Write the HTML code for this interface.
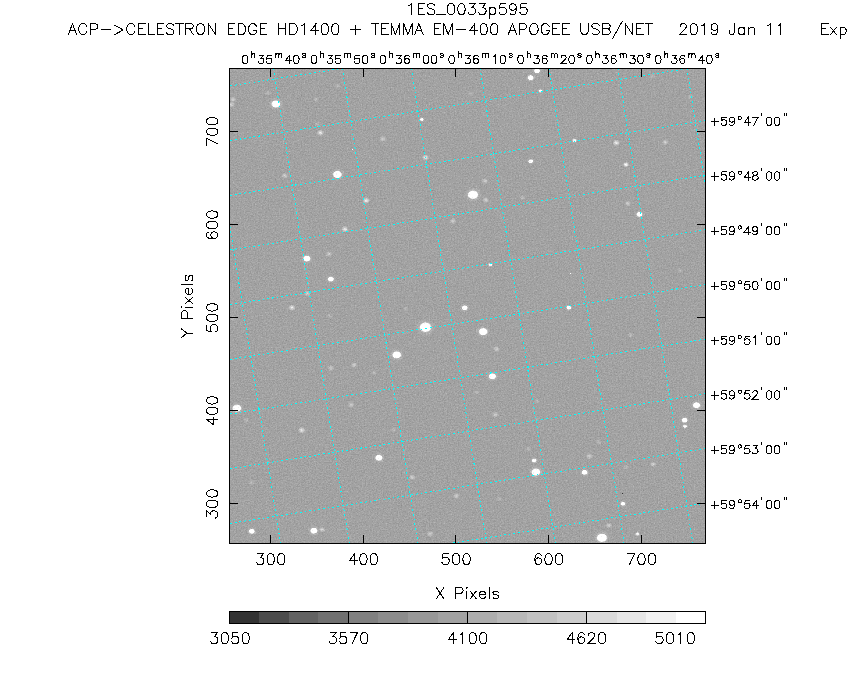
<!DOCTYPE html>
<html><head><meta charset="utf-8"><title>1ES_0033p595</title>
<style>
html,body{margin:0;padding:0;background:#fff;}
body{width:850px;height:680px;overflow:hidden;font-family:"Liberation Sans",sans-serif;}
svg{display:block;}
</style></head><body>
<svg width="850" height="680" viewBox="0 0 850 680">
<defs>
<radialGradient id="c"><stop offset="0" stop-color="#fff"/><stop offset="0.78" stop-color="#fff"/><stop offset="1" stop-color="#fff" stop-opacity="0"/></radialGradient>
<radialGradient id="h"><stop offset="0" stop-color="#fff"/><stop offset="0.3" stop-color="#fff" stop-opacity="0.75"/><stop offset="1" stop-color="#fff" stop-opacity="0"/></radialGradient>
<filter id="n" filterUnits="userSpaceOnUse" x="229" y="68" width="477" height="476" color-interpolation-filters="sRGB">
<feTurbulence type="fractalNoise" baseFrequency="0.72" numOctaves="2" seed="11" result="t"/>
<feColorMatrix in="t" type="matrix" values="1 0 0 0 0  1 0 0 0 0  1 0 0 0 0  0 0 0 0 1" result="g"/>
<feComposite in="SourceGraphic" in2="g" operator="arithmetic" k1="0" k2="1" k3="0.29" k4="-0.1450" result="m"/>
<feComponentTransfer in="m"><feFuncR type="discrete" tableValues="0.2000 0.2980 0.3843 0.4392 0.5020 0.5490 0.5961 0.6353 0.6784 0.7216 0.7608 0.8039 0.8549 0.9020 0.9490 1.0000"/><feFuncG type="discrete" tableValues="0.2000 0.2980 0.3843 0.4392 0.5020 0.5490 0.5961 0.6353 0.6784 0.7216 0.7608 0.8039 0.8549 0.9020 0.9490 1.0000"/><feFuncB type="discrete" tableValues="0.2000 0.2980 0.3843 0.4392 0.5020 0.5490 0.5961 0.6353 0.6784 0.7216 0.7608 0.8039 0.8549 0.9020 0.9490 1.0000"/></feComponentTransfer>
</filter>
<clipPath id="cp"><rect x="229" y="68" width="477" height="476"/></clipPath>
</defs>
<g filter="url(#n)">
<rect x="229" y="68" width="477" height="476" fill="rgb(119.5,119.5,119.5)"/>
<ellipse cx="275.8" cy="104" rx="7.8" ry="6.63" fill="url(#h)" opacity="0.4"/>
<ellipse cx="275.8" cy="104" rx="4.758" ry="3.9" fill="url(#c)" opacity="1"/>
<ellipse cx="233" cy="99.4" rx="3.6" ry="3.12" fill="url(#h)" opacity="0.528"/>
<ellipse cx="231.6" cy="104.6" rx="3.6" ry="3.12" fill="url(#h)" opacity="0.528"/>
<ellipse cx="268" cy="92.7" rx="3.3" ry="2.86" fill="url(#h)" opacity="0.288"/>
<ellipse cx="320.4" cy="132.8" rx="3.9" ry="3.38" fill="url(#h)" opacity="0.8"/>
<ellipse cx="317.6" cy="124.3" rx="3.3" ry="2.86" fill="url(#h)" opacity="0.288"/>
<ellipse cx="383" cy="139" rx="3.6" ry="3.12" fill="url(#h)" opacity="0.528"/>
<ellipse cx="421.8" cy="119.5" rx="3.4" ry="2.89" fill="url(#h)" opacity="0.4"/>
<ellipse cx="421.8" cy="119.5" rx="2.074" ry="1.7" fill="url(#c)" opacity="0.8"/>
<ellipse cx="425.5" cy="157.6" rx="3.9" ry="3.38" fill="url(#h)" opacity="0.8"/>
<ellipse cx="337.4" cy="174.5" rx="7.8" ry="6.63" fill="url(#h)" opacity="0.4"/>
<ellipse cx="337.4" cy="174.5" rx="4.758" ry="3.9" fill="url(#c)" opacity="1"/>
<ellipse cx="284.9" cy="175.7" rx="3.6" ry="3.12" fill="url(#h)" opacity="0.528"/>
<ellipse cx="366.2" cy="200.5" rx="3.9" ry="3.38" fill="url(#h)" opacity="0.8"/>
<ellipse cx="453" cy="221" rx="3.6" ry="3.12" fill="url(#h)" opacity="0.528"/>
<ellipse cx="316" cy="99.4" rx="3.3" ry="2.86" fill="url(#h)" opacity="0.288"/>
<ellipse cx="337.4" cy="86" rx="3.3" ry="2.86" fill="url(#h)" opacity="0.288"/>
<ellipse cx="537" cy="70.8" rx="5.2" ry="4.42" fill="url(#h)" opacity="0.4"/>
<ellipse cx="537" cy="70.8" rx="3.172" ry="2.6" fill="url(#c)" opacity="1"/>
<ellipse cx="530.7" cy="77.7" rx="5.2" ry="4.42" fill="url(#h)" opacity="0.4"/>
<ellipse cx="530.7" cy="77.7" rx="3.172" ry="2.6" fill="url(#c)" opacity="1"/>
<ellipse cx="540.5" cy="91" rx="3.4" ry="2.89" fill="url(#h)" opacity="0.4"/>
<ellipse cx="540.5" cy="91" rx="2.074" ry="1.7" fill="url(#c)" opacity="0.8"/>
<ellipse cx="574.5" cy="140.5" rx="3.4" ry="2.89" fill="url(#h)" opacity="0.4"/>
<ellipse cx="574.5" cy="140.5" rx="2.074" ry="1.7" fill="url(#c)" opacity="0.8"/>
<ellipse cx="616.3" cy="142.8" rx="3.9" ry="3.38" fill="url(#h)" opacity="0.8"/>
<ellipse cx="665.3" cy="142.3" rx="3.6" ry="3.12" fill="url(#h)" opacity="0.528"/>
<ellipse cx="530.7" cy="161.3" rx="4.2" ry="3.57" fill="url(#h)" opacity="0.4"/>
<ellipse cx="530.7" cy="161.3" rx="2.562" ry="2.1" fill="url(#c)" opacity="0.95"/>
<ellipse cx="625.9" cy="164.5" rx="3.45" ry="2.99" fill="url(#h)" opacity="0.992"/>
<ellipse cx="473" cy="194.7" rx="9.2" ry="7.82" fill="url(#h)" opacity="0.4"/>
<ellipse cx="473" cy="194.7" rx="5.612" ry="4.6" fill="url(#c)" opacity="1"/>
<ellipse cx="485" cy="181" rx="3.6" ry="3.12" fill="url(#h)" opacity="0.528"/>
<ellipse cx="485.8" cy="200" rx="3.6" ry="3.12" fill="url(#h)" opacity="0.528"/>
<ellipse cx="639.4" cy="214.3" rx="5.2" ry="4.42" fill="url(#h)" opacity="0.4"/>
<ellipse cx="639.4" cy="214.3" rx="3.172" ry="2.6" fill="url(#c)" opacity="1"/>
<ellipse cx="627.9" cy="203.4" rx="3.6" ry="3.12" fill="url(#h)" opacity="0.528"/>
<ellipse cx="470.8" cy="93.8" rx="3.3" ry="2.86" fill="url(#h)" opacity="0.288"/>
<ellipse cx="522.7" cy="197.6" rx="3.3" ry="2.86" fill="url(#h)" opacity="0.288"/>
<ellipse cx="690.4" cy="96.7" rx="3.3" ry="2.86" fill="url(#h)" opacity="0.288"/>
<ellipse cx="652.4" cy="76" rx="3.3" ry="2.86" fill="url(#h)" opacity="0.288"/>
<ellipse cx="306.9" cy="258.6" rx="6.4" ry="5.44" fill="url(#h)" opacity="0.4"/>
<ellipse cx="306.9" cy="258.6" rx="3.904" ry="3.2" fill="url(#c)" opacity="1"/>
<ellipse cx="330.9" cy="279.2" rx="5.2" ry="4.42" fill="url(#h)" opacity="0.4"/>
<ellipse cx="330.9" cy="279.2" rx="3.172" ry="2.6" fill="url(#c)" opacity="1"/>
<ellipse cx="328.9" cy="254.1" rx="3.6" ry="3.12" fill="url(#h)" opacity="0.528"/>
<ellipse cx="345" cy="229.2" rx="3.9" ry="3.38" fill="url(#h)" opacity="0.8"/>
<ellipse cx="291.9" cy="307.7" rx="3.9" ry="3.38" fill="url(#h)" opacity="0.8"/>
<ellipse cx="307.4" cy="293.6" rx="3.6" ry="3.12" fill="url(#h)" opacity="0.528"/>
<ellipse cx="329.5" cy="315.9" rx="3.3" ry="2.86" fill="url(#h)" opacity="0.288"/>
<ellipse cx="425.5" cy="327.2" rx="10.4" ry="8.84" fill="url(#h)" opacity="0.4"/>
<ellipse cx="425.5" cy="327.2" rx="6.344" ry="5.2" fill="url(#c)" opacity="1"/>
<ellipse cx="396.7" cy="354.9" rx="7.8" ry="6.63" fill="url(#h)" opacity="0.4"/>
<ellipse cx="396.7" cy="354.9" rx="4.758" ry="3.9" fill="url(#c)" opacity="1"/>
<ellipse cx="464.7" cy="307.8" rx="5.2" ry="4.42" fill="url(#h)" opacity="0.4"/>
<ellipse cx="464.7" cy="307.8" rx="3.172" ry="2.6" fill="url(#c)" opacity="1"/>
<ellipse cx="354" cy="365" rx="3.6" ry="3.12" fill="url(#h)" opacity="0.528"/>
<ellipse cx="330.9" cy="368.2" rx="3.6" ry="3.12" fill="url(#h)" opacity="0.528"/>
<ellipse cx="374" cy="372.7" rx="3.3" ry="2.86" fill="url(#h)" opacity="0.288"/>
<ellipse cx="405.7" cy="309.1" rx="3.3" ry="2.86" fill="url(#h)" opacity="0.288"/>
<ellipse cx="233.5" cy="318.2" rx="3.3" ry="2.86" fill="url(#h)" opacity="0.288"/>
<ellipse cx="490.4" cy="264.8" rx="3.4" ry="2.89" fill="url(#h)" opacity="0.4"/>
<ellipse cx="490.4" cy="264.8" rx="2.074" ry="1.7" fill="url(#c)" opacity="0.8"/>
<ellipse cx="568.8" cy="307.7" rx="4.2" ry="3.57" fill="url(#h)" opacity="0.4"/>
<ellipse cx="568.8" cy="307.7" rx="2.562" ry="2.1" fill="url(#c)" opacity="0.95"/>
<ellipse cx="483.2" cy="331.7" rx="7.8" ry="6.63" fill="url(#h)" opacity="0.4"/>
<ellipse cx="483.2" cy="331.7" rx="4.758" ry="3.9" fill="url(#c)" opacity="1"/>
<ellipse cx="496.7" cy="349" rx="3.6" ry="3.12" fill="url(#h)" opacity="0.528"/>
<ellipse cx="492.4" cy="376.3" rx="6.4" ry="5.44" fill="url(#h)" opacity="0.4"/>
<ellipse cx="492.4" cy="376.3" rx="3.904" ry="3.2" fill="url(#c)" opacity="1"/>
<ellipse cx="630.8" cy="335.1" rx="3.3" ry="2.86" fill="url(#h)" opacity="0.288"/>
<ellipse cx="679.8" cy="270.5" rx="3.3" ry="2.86" fill="url(#h)" opacity="0.288"/>
<ellipse cx="236.9" cy="408.2" rx="7.8" ry="6.63" fill="url(#h)" opacity="0.4"/>
<ellipse cx="236.9" cy="408.2" rx="4.758" ry="3.9" fill="url(#c)" opacity="1"/>
<ellipse cx="301.8" cy="430.2" rx="3.9" ry="3.38" fill="url(#h)" opacity="0.8"/>
<ellipse cx="351.2" cy="404.8" rx="3.6" ry="3.12" fill="url(#h)" opacity="0.528"/>
<ellipse cx="378.9" cy="457.8" rx="6.4" ry="5.44" fill="url(#h)" opacity="0.4"/>
<ellipse cx="378.9" cy="457.8" rx="3.904" ry="3.2" fill="url(#c)" opacity="1"/>
<ellipse cx="412.2" cy="477.3" rx="3.6" ry="3.12" fill="url(#h)" opacity="0.528"/>
<ellipse cx="393.8" cy="429.6" rx="3.3" ry="2.86" fill="url(#h)" opacity="0.288"/>
<ellipse cx="456.5" cy="496" rx="3.6" ry="3.12" fill="url(#h)" opacity="0.528"/>
<ellipse cx="251.8" cy="531.3" rx="5.2" ry="4.42" fill="url(#h)" opacity="0.4"/>
<ellipse cx="251.8" cy="531.3" rx="3.172" ry="2.6" fill="url(#c)" opacity="1"/>
<ellipse cx="313.9" cy="530.7" rx="6.4" ry="5.44" fill="url(#h)" opacity="0.4"/>
<ellipse cx="313.9" cy="530.7" rx="3.904" ry="3.2" fill="url(#c)" opacity="1"/>
<ellipse cx="322.4" cy="529.6" rx="3.6" ry="3.12" fill="url(#h)" opacity="0.528"/>
<ellipse cx="430.3" cy="533.8" rx="3.6" ry="3.12" fill="url(#h)" opacity="0.528"/>
<ellipse cx="251.8" cy="482.4" rx="3.3" ry="2.86" fill="url(#h)" opacity="0.288"/>
<ellipse cx="246.2" cy="420.3" rx="3.3" ry="2.86" fill="url(#h)" opacity="0.288"/>
<ellipse cx="696.5" cy="405.2" rx="6.4" ry="5.44" fill="url(#h)" opacity="0.4"/>
<ellipse cx="696.5" cy="405.2" rx="3.904" ry="3.2" fill="url(#c)" opacity="1"/>
<ellipse cx="684.7" cy="420.2" rx="5.2" ry="4.42" fill="url(#h)" opacity="0.4"/>
<ellipse cx="684.7" cy="420.2" rx="3.172" ry="2.6" fill="url(#c)" opacity="1"/>
<ellipse cx="685" cy="426.2" rx="3.4" ry="2.89" fill="url(#h)" opacity="0.4"/>
<ellipse cx="685" cy="426.2" rx="2.074" ry="1.7" fill="url(#c)" opacity="0.8"/>
<ellipse cx="534.2" cy="460.5" rx="4.2" ry="3.57" fill="url(#h)" opacity="0.4"/>
<ellipse cx="534.2" cy="460.5" rx="2.562" ry="2.1" fill="url(#c)" opacity="0.95"/>
<ellipse cx="535.9" cy="472.1" rx="7.8" ry="6.63" fill="url(#h)" opacity="0.4"/>
<ellipse cx="535.9" cy="472.1" rx="4.758" ry="3.9" fill="url(#c)" opacity="1"/>
<ellipse cx="584.6" cy="472.3" rx="5.2" ry="4.42" fill="url(#h)" opacity="0.4"/>
<ellipse cx="584.6" cy="472.3" rx="3.172" ry="2.6" fill="url(#c)" opacity="1"/>
<ellipse cx="623" cy="503.8" rx="4.2" ry="3.57" fill="url(#h)" opacity="0.4"/>
<ellipse cx="623" cy="503.8" rx="2.562" ry="2.1" fill="url(#c)" opacity="0.95"/>
<ellipse cx="601.9" cy="537.8" rx="9.2" ry="7.82" fill="url(#h)" opacity="0.4"/>
<ellipse cx="601.9" cy="537.8" rx="5.612" ry="4.6" fill="url(#c)" opacity="1"/>
<ellipse cx="637.4" cy="534" rx="3.4" ry="2.89" fill="url(#h)" opacity="0.4"/>
<ellipse cx="637.4" cy="534" rx="2.074" ry="1.7" fill="url(#c)" opacity="0.8"/>
<ellipse cx="495.3" cy="414.7" rx="3.6" ry="3.12" fill="url(#h)" opacity="0.528"/>
<ellipse cx="589.5" cy="456.2" rx="3.6" ry="3.12" fill="url(#h)" opacity="0.528"/>
<ellipse cx="653.2" cy="464.3" rx="3.6" ry="3.12" fill="url(#h)" opacity="0.528"/>
<ellipse cx="599" cy="442.1" rx="3.3" ry="2.86" fill="url(#h)" opacity="0.288"/>
<ellipse cx="499" cy="498.9" rx="3.3" ry="2.86" fill="url(#h)" opacity="0.288"/>
<ellipse cx="609.1" cy="525.4" rx="3.6" ry="3.12" fill="url(#h)" opacity="0.528"/>
<ellipse cx="528.4" cy="449" rx="3.3" ry="2.86" fill="url(#h)" opacity="0.288"/>
<ellipse cx="476.5" cy="392.2" rx="3.3" ry="2.86" fill="url(#h)" opacity="0.288"/>
<ellipse cx="537" cy="401" rx="3.3" ry="2.86" fill="url(#h)" opacity="0.288"/>
<ellipse cx="625.9" cy="467.2" rx="3.3" ry="2.86" fill="url(#h)" opacity="0.288"/>
</g>
<rect x="352" y="149" width="1" height="1" fill="#fff"/>
<rect x="570" y="273" width="1" height="1" fill="#fff"/>
<rect x="622" y="493" width="1" height="1" fill="#333"/>
<g clip-path="url(#cp)">
<path d="M204.6 68.5 L280.6 543.5 M273.5 68.5 L349.3 543.5 M342.4 68.5 L418 543.5 M411.3 68.5 L486.7 543.5 M480.2 68.5 L555.4 543.5 M549.1 68.5 L624.1 543.5 M618 68.5 L692.8 543.5 M686.9 68.5 L761.5 543.5 M705.5 -43.64 L229.5 31.3776 M705.5 11.04 L229.5 86.0576 M705.5 65.72 L229.5 140.738 M705.5 120.4 L229.5 195.418 M705.5 175.08 L229.5 250.098 M705.5 229.76 L229.5 304.778 M705.5 284.44 L229.5 359.458 M705.5 339.12 L229.5 414.138 M705.5 393.8 L229.5 468.818 M705.5 448.48 L229.5 523.498 M705.5 503.16 L229.5 578.178 M705.5 557.84 L229.5 632.858" fill="none" stroke="#00ffff" stroke-width="1" stroke-dasharray="1.7 3" shape-rendering="crispEdges"/>
</g>
<rect x="229" y="611" width="30" height="13" fill="rgb(51,51,51)"/>
<rect x="259" y="611" width="30" height="13" fill="rgb(76,76,76)"/>
<rect x="289" y="611" width="29" height="13" fill="rgb(98,98,98)"/>
<rect x="318" y="611" width="30" height="13" fill="rgb(112,112,112)"/>
<rect x="348" y="611" width="30" height="13" fill="rgb(128,128,128)"/>
<rect x="378" y="611" width="30" height="13" fill="rgb(140,140,140)"/>
<rect x="408" y="611" width="30" height="13" fill="rgb(152,152,152)"/>
<rect x="438" y="611" width="30" height="13" fill="rgb(162,162,162)"/>
<rect x="468" y="611" width="29" height="13" fill="rgb(173,173,173)"/>
<rect x="497" y="611" width="30" height="13" fill="rgb(184,184,184)"/>
<rect x="527" y="611" width="30" height="13" fill="rgb(194,194,194)"/>
<rect x="557" y="611" width="30" height="13" fill="rgb(205,205,205)"/>
<rect x="587" y="611" width="30" height="13" fill="rgb(218,218,218)"/>
<rect x="617" y="611" width="29" height="13" fill="rgb(230,230,230)"/>
<rect x="646" y="611" width="30" height="13" fill="rgb(242,242,242)"/>
<rect x="676" y="611" width="30" height="13" fill="rgb(255,255,255)"/>
<g fill="none" stroke="#000" stroke-width="1" shape-rendering="crispEdges">
<path d="M229.5 68.5 H705.5 V543.5 H229.5 Z"/>
<path d="M270.5 68.5 V77 M270.5 543.5 V535 M229.5 503.5 H238 M705.5 503.5 H697 M363.5 68.5 V77 M363.5 543.5 V535 M229.5 410.5 H238 M705.5 410.5 H697 M455.5 68.5 V77 M455.5 543.5 V535 M229.5 317.5 H238 M705.5 317.5 H697 M548.5 68.5 V77 M548.5 543.5 V535 M229.5 224.5 H238 M705.5 224.5 H697 M641.5 68.5 V77 M641.5 543.5 V535 M229.5 131.5 H238 M705.5 131.5 H697"/>
<path d="M229.5 611.5 H705.5 V623.5 H229.5 Z M348.5 611 V624 M467.5 611 V624 M586.5 611 V624"/>
<path d="M408.7 5.72 L409.74 5.2 L411.31 3.63 L411.31 14.6 M418.1 3.63 L418.1 14.6 M418.1 3.63 L424.89 3.63 M418.1 8.85 L422.28 8.85 M418.1 14.6 L424.89 14.6 M434.82 5.2 L433.78 4.15 L432.21 3.63 L430.12 3.63 L428.55 4.15 L427.51 5.2 L427.51 6.24 L428.03 7.29 L428.55 7.81 L429.6 8.33 L432.73 9.38 L433.78 9.9 L434.3 10.42 L434.82 11.46 L434.82 13.03 L433.78 14.08 L432.21 14.6 L430.12 14.6 L428.55 14.08 L427.51 13.03 M436.91 14.6 L445.27 14.6 M450.5 3.63 L448.93 4.15 L447.88 5.72 L447.36 8.33 L447.36 9.9 L447.88 12.51 L448.93 14.08 L450.5 14.6 L451.54 14.6 L453.11 14.08 L454.15 12.51 L454.68 9.9 L454.68 8.33 L454.15 5.72 L453.11 4.15 L451.54 3.63 L450.5 3.63 M460.95 3.63 L459.38 4.15 L458.33 5.72 L457.81 8.33 L457.81 9.9 L458.33 12.51 L459.38 14.08 L460.95 14.6 L461.99 14.6 L463.56 14.08 L464.6 12.51 L465.13 9.9 L465.13 8.33 L464.6 5.72 L463.56 4.15 L461.99 3.63 L460.95 3.63 M469.31 3.63 L475.05 3.63 L471.92 7.81 L473.49 7.81 L474.53 8.33 L475.05 8.85 L475.58 10.42 L475.58 11.46 L475.05 13.03 L474.01 14.08 L472.44 14.6 L470.87 14.6 L469.31 14.08 L468.78 13.55 L468.26 12.51 M479.76 3.63 L485.5 3.63 L482.37 7.81 L483.94 7.81 L484.98 8.33 L485.5 8.85 L486.03 10.42 L486.03 11.46 L485.5 13.03 L484.46 14.08 L482.89 14.6 L481.32 14.6 L479.76 14.08 L479.23 13.55 L478.71 12.51 M489.68 7.29 L489.68 18.26 M489.68 8.85 L490.73 7.81 L491.77 7.29 L493.34 7.29 L494.39 7.81 L495.43 8.85 L495.95 10.42 L495.95 11.46 L495.43 13.03 L494.39 14.08 L493.34 14.6 L491.77 14.6 L490.73 14.08 L489.68 13.03 M505.36 3.63 L500.13 3.63 L499.61 8.33 L500.13 7.81 L501.7 7.29 L503.27 7.29 L504.84 7.81 L505.88 8.85 L506.4 10.42 L506.4 11.46 L505.88 13.03 L504.84 14.08 L503.27 14.6 L501.7 14.6 L500.13 14.08 L499.61 13.55 L499.09 12.51 M516.33 7.29 L515.81 8.85 L514.76 9.9 L513.2 10.42 L512.67 10.42 L511.11 9.9 L510.06 8.85 L509.54 7.29 L509.54 6.76 L510.06 5.2 L511.11 4.15 L512.67 3.63 L513.2 3.63 L514.76 4.15 L515.81 5.2 L516.33 7.29 L516.33 9.9 L515.81 12.51 L514.76 14.08 L513.2 14.6 L512.15 14.6 L510.58 14.08 L510.06 13.03 M526.26 3.63 L521.03 3.63 L520.51 8.33 L521.03 7.81 L522.6 7.29 L524.17 7.29 L525.74 7.81 L526.78 8.85 L527.3 10.42 L527.3 11.46 L526.78 13.03 L525.74 14.08 L524.17 14.6 L522.6 14.6 L521.03 14.08 L520.51 13.55 L519.99 12.51
M72.48 23.63 L68.3 34.6 M72.48 23.63 L76.66 34.6 M69.87 30.94 L75.09 30.94 M86.59 26.24 L86.06 25.2 L85.02 24.15 L83.97 23.63 L81.89 23.63 L80.84 24.15 L79.8 25.2 L79.27 26.24 L78.75 27.81 L78.75 30.42 L79.27 31.99 L79.8 33.03 L80.84 34.08 L81.89 34.6 L83.97 34.6 L85.02 34.08 L86.06 33.03 L86.59 31.99 M90.25 23.63 L90.25 34.6 M90.25 23.63 L94.95 23.63 L96.52 24.15 L97.04 24.67 L97.56 25.72 L97.56 27.29 L97.04 28.33 L96.52 28.85 L94.95 29.38 L90.25 29.38 M101.22 29.9 L110.62 29.9 M114.8 25.2 L123.16 29.9 L114.8 34.6 M134.66 26.24 L134.13 25.2 L133.09 24.15 L132.05 23.63 L129.95 23.63 L128.91 24.15 L127.86 25.2 L127.34 26.24 L126.82 27.81 L126.82 30.42 L127.34 31.99 L127.86 33.03 L128.91 34.08 L129.95 34.6 L132.05 34.6 L133.09 34.08 L134.13 33.03 L134.66 31.99 M138.31 23.63 L138.31 34.6 M138.31 23.63 L145.11 23.63 M138.31 28.85 L142.5 28.85 M138.31 34.6 L145.11 34.6 M148.24 23.63 L148.24 34.6 M148.24 34.6 L154.51 34.6 M157.12 23.63 L157.12 34.6 M157.12 23.63 L163.92 23.63 M157.12 28.85 L161.31 28.85 M157.12 34.6 L163.92 34.6 M173.84 25.2 L172.8 24.15 L171.23 23.63 L169.14 23.63 L167.57 24.15 L166.53 25.2 L166.53 26.24 L167.05 27.29 L167.57 27.81 L168.62 28.33 L171.75 29.38 L172.8 29.9 L173.32 30.42 L173.84 31.47 L173.84 33.03 L172.8 34.08 L171.23 34.6 L169.14 34.6 L167.57 34.08 L166.53 33.03 M179.59 23.63 L179.59 34.6 M175.94 23.63 L183.25 23.63 M185.86 23.63 L185.86 34.6 M185.86 23.63 L190.56 23.63 L192.13 24.15 L192.66 24.67 L193.18 25.72 L193.18 26.76 L192.66 27.81 L192.13 28.33 L190.56 28.85 L185.86 28.85 M189.52 28.85 L193.18 34.6 M199.45 23.63 L198.4 24.15 L197.36 25.2 L196.83 26.24 L196.31 27.81 L196.31 30.42 L196.83 31.99 L197.36 33.03 L198.4 34.08 L199.45 34.6 L201.54 34.6 L202.58 34.08 L203.63 33.03 L204.15 31.99 L204.67 30.42 L204.67 27.81 L204.15 26.24 L203.63 25.2 L202.58 24.15 L201.54 23.63 L199.45 23.63 M208.33 23.63 L208.33 34.6 M208.33 23.63 L215.64 34.6 M215.64 23.63 L215.64 34.6 M228.19 23.63 L228.19 34.6 M228.19 23.63 L234.98 23.63 M228.19 28.85 L232.37 28.85 M228.19 34.6 L234.98 34.6 M238.11 23.63 L238.11 34.6 M238.11 23.63 L241.77 23.63 L243.34 24.15 L244.38 25.2 L244.91 26.24 L245.43 27.81 L245.43 30.42 L244.91 31.99 L244.38 33.03 L243.34 34.08 L241.77 34.6 L238.11 34.6 M256.4 26.24 L255.88 25.2 L254.83 24.15 L253.79 23.63 L251.7 23.63 L250.65 24.15 L249.61 25.2 L249.09 26.24 L248.56 27.81 L248.56 30.42 L249.09 31.99 L249.61 33.03 L250.65 34.08 L251.7 34.6 L253.79 34.6 L254.83 34.08 L255.88 33.03 L256.4 31.99 L256.4 30.42 M253.79 30.42 L256.4 30.42 M260.06 23.63 L260.06 34.6 M260.06 23.63 L266.85 23.63 M260.06 28.85 L264.24 28.85 M260.06 34.6 L266.85 34.6 M278.35 23.63 L278.35 34.6 M285.66 23.63 L285.66 34.6 M278.35 28.85 L285.66 28.85 M289.84 23.63 L289.84 34.6 M289.84 23.63 L293.5 23.63 L295.07 24.15 L296.11 25.2 L296.63 26.24 L297.16 27.81 L297.16 30.42 L296.63 31.99 L296.11 33.03 L295.07 34.08 L293.5 34.6 L289.84 34.6 M301.86 25.72 L302.9 25.2 L304.47 23.63 L304.47 34.6 M315.97 23.63 L310.74 30.94 L318.58 30.94 M315.97 23.63 L315.97 34.6 M324.33 23.63 L322.76 24.15 L321.71 25.72 L321.19 28.33 L321.19 29.9 L321.71 32.51 L322.76 34.08 L324.33 34.6 L325.37 34.6 L326.94 34.08 L327.98 32.51 L328.5 29.9 L328.5 28.33 L327.98 25.72 L326.94 24.15 L325.37 23.63 L324.33 23.63 M334.77 23.63 L333.21 24.15 L332.16 25.72 L331.64 28.33 L331.64 29.9 L332.16 32.51 L333.21 34.08 L334.77 34.6 L335.82 34.6 L337.39 34.08 L338.43 32.51 L338.96 29.9 L338.96 28.33 L338.43 25.72 L337.39 24.15 L335.82 23.63 L334.77 23.63 M355.68 25.2 L355.68 34.6 M350.97 29.9 L360.38 29.9 M375.01 23.63 L375.01 34.6 M371.35 23.63 L378.66 23.63 M381.28 23.63 L381.28 34.6 M381.28 23.63 L388.07 23.63 M381.28 28.85 L385.46 28.85 M381.28 34.6 L388.07 34.6 M391.21 23.63 L391.21 34.6 M391.21 23.63 L395.38 34.6 M399.57 23.63 L395.38 34.6 M399.57 23.63 L399.57 34.6 M403.75 23.63 L403.75 34.6 M403.75 23.63 L407.93 34.6 M412.11 23.63 L407.93 34.6 M412.11 23.63 L412.11 34.6 M418.9 23.63 L414.72 34.6 M418.9 23.63 L423.08 34.6 M416.29 30.94 L421.51 30.94 M434.05 23.63 L434.05 34.6 M434.05 23.63 L440.84 23.63 M434.05 28.85 L438.23 28.85 M434.05 34.6 L440.84 34.6 M443.98 23.63 L443.98 34.6 M443.98 23.63 L448.16 34.6 M452.34 23.63 L448.16 34.6 M452.34 23.63 L452.34 34.6 M456.52 29.9 L465.92 29.9 M474.81 23.63 L469.58 30.94 L477.42 30.94 M474.81 23.63 L474.81 34.6 M483.17 23.63 L481.6 24.15 L480.55 25.72 L480.03 28.33 L480.03 29.9 L480.55 32.51 L481.6 34.08 L483.17 34.6 L484.21 34.6 L485.78 34.08 L486.82 32.51 L487.35 29.9 L487.35 28.33 L486.82 25.72 L485.78 24.15 L484.21 23.63 L483.17 23.63 M493.62 23.63 L492.05 24.15 L491 25.72 L490.48 28.33 L490.48 29.9 L491 32.51 L492.05 34.08 L493.62 34.6 L494.66 34.6 L496.23 34.08 L497.27 32.51 L497.8 29.9 L497.8 28.33 L497.27 25.72 L496.23 24.15 L494.66 23.63 L493.62 23.63 M512.43 23.63 L508.25 34.6 M512.43 23.63 L516.61 34.6 M509.81 30.94 L515.04 30.94 M519.22 23.63 L519.22 34.6 M519.22 23.63 L523.92 23.63 L525.49 24.15 L526.01 24.67 L526.53 25.72 L526.53 27.29 L526.01 28.33 L525.49 28.85 L523.92 29.38 L519.22 29.38 M532.8 23.63 L531.76 24.15 L530.71 25.2 L530.19 26.24 L529.67 27.81 L529.67 30.42 L530.19 31.99 L530.71 33.03 L531.76 34.08 L532.8 34.6 L534.89 34.6 L535.94 34.08 L536.98 33.03 L537.5 31.99 L538.03 30.42 L538.03 27.81 L537.5 26.24 L536.98 25.2 L535.94 24.15 L534.89 23.63 L532.8 23.63 M549 26.24 L548.48 25.2 L547.43 24.15 L546.39 23.63 L544.3 23.63 L543.25 24.15 L542.21 25.2 L541.69 26.24 L541.16 27.81 L541.16 30.42 L541.69 31.99 L542.21 33.03 L543.25 34.08 L544.3 34.6 L546.39 34.6 L547.43 34.08 L548.48 33.03 L549 31.99 L549 30.42 M546.39 30.42 L549 30.42 M552.66 23.63 L552.66 34.6 M552.66 23.63 L559.45 23.63 M552.66 28.85 L556.84 28.85 M552.66 34.6 L559.45 34.6 M562.59 23.63 L562.59 34.6 M562.59 23.63 L569.38 23.63 M562.59 28.85 L566.77 28.85 M562.59 34.6 L569.38 34.6 M580.87 23.63 L580.87 31.47 L581.4 33.03 L582.44 34.08 L584.01 34.6 L585.05 34.6 L586.62 34.08 L587.67 33.03 L588.19 31.47 L588.19 23.63 M599.16 25.2 L598.12 24.15 L596.55 23.63 L594.46 23.63 L592.89 24.15 L591.85 25.2 L591.85 26.24 L592.37 27.29 L592.89 27.81 L593.94 28.33 L597.07 29.38 L598.12 29.9 L598.64 30.42 L599.16 31.47 L599.16 33.03 L598.12 34.08 L596.55 34.6 L594.46 34.6 L592.89 34.08 L591.85 33.03 M602.82 23.63 L602.82 34.6 M602.82 23.63 L607.52 23.63 L609.09 24.15 L609.61 24.67 L610.13 25.72 L610.13 26.76 L609.61 27.81 L609.09 28.33 L607.52 28.85 M602.82 28.85 L607.52 28.85 L609.09 29.38 L609.61 29.9 L610.13 30.94 L610.13 32.51 L609.61 33.55 L609.09 34.08 L607.52 34.6 L602.82 34.6 M622.15 21.54 L612.75 38.26 M625.29 23.63 L625.29 34.6 M625.29 23.63 L632.6 34.6 M632.6 23.63 L632.6 34.6 M636.78 23.63 L636.78 34.6 M636.78 23.63 L643.57 23.63 M636.78 28.85 L640.96 28.85 M636.78 34.6 L643.57 34.6 M648.8 23.63 L648.8 34.6 M645.14 23.63 L652.46 23.63 M680.15 26.24 L680.15 25.72 L680.67 24.67 L681.19 24.15 L682.24 23.63 L684.33 23.63 L685.37 24.15 L685.9 24.67 L686.42 25.72 L686.42 26.76 L685.9 27.81 L684.85 29.38 L679.63 34.6 L686.94 34.6 M693.21 23.63 L691.64 24.15 L690.6 25.72 L690.08 28.33 L690.08 29.9 L690.6 32.51 L691.64 34.08 L693.21 34.6 L694.26 34.6 L695.82 34.08 L696.87 32.51 L697.39 29.9 L697.39 28.33 L696.87 25.72 L695.82 24.15 L694.26 23.63 L693.21 23.63 M702.09 25.72 L703.14 25.2 L704.71 23.63 L704.71 34.6 M717.77 27.29 L717.25 28.85 L716.2 29.9 L714.63 30.42 L714.11 30.42 L712.54 29.9 L711.5 28.85 L710.98 27.29 L710.98 26.76 L711.5 25.2 L712.54 24.15 L714.11 23.63 L714.63 23.63 L716.2 24.15 L717.25 25.2 L717.77 27.29 L717.77 29.9 L717.25 32.51 L716.2 34.08 L714.63 34.6 L713.59 34.6 L712.02 34.08 L711.5 33.03 M734.49 23.63 L734.49 31.99 L733.97 33.55 L733.44 34.08 L732.4 34.6 L731.35 34.6 L730.31 34.08 L729.79 33.55 L729.26 31.99 L729.26 30.94 M744.42 27.29 L744.42 34.6 M744.42 28.85 L743.37 27.81 L742.33 27.29 L740.76 27.29 L739.71 27.81 L738.67 28.85 L738.15 30.42 L738.15 31.47 L738.67 33.03 L739.71 34.08 L740.76 34.6 L742.33 34.6 L743.37 34.08 L744.42 33.03 M748.6 27.29 L748.6 34.6 M748.6 29.38 L750.16 27.81 L751.21 27.29 L752.78 27.29 L753.82 27.81 L754.34 29.38 L754.34 34.6 M767.93 25.72 L768.97 25.2 L770.54 23.63 L770.54 34.6 M778.38 25.72 L779.42 25.2 L780.99 23.63 L780.99 34.6 M821.22 23.63 L821.22 34.6 M821.22 23.63 L828.02 23.63 M821.22 28.85 L825.4 28.85 M821.22 34.6 L828.02 34.6 M830.63 27.29 L836.38 34.6 M836.38 27.29 L830.63 34.6 M840.03 27.29 L840.03 38.26 M840.03 28.85 L841.08 27.81 L842.12 27.29 L843.69 27.29 L844.74 27.81 L845.78 28.85 L846.3 30.42 L846.3 31.47 L845.78 33.03 L844.74 34.08 L843.69 34.6 L842.12 34.6 L841.08 34.08 L840.03 33.03 M864.59 25.2 L864.07 24.15 L862.5 23.63 L861.46 23.63 L859.89 24.15 L858.84 25.72 L858.32 28.33 L858.32 30.94 L858.84 33.03 L859.89 34.08 L861.46 34.6 L861.98 34.6 L863.55 34.08 L864.59 33.03 L865.11 31.47 L865.11 30.94 L864.59 29.38 L863.55 28.33 L861.98 27.81 L861.46 27.81 L859.89 28.33 L858.84 29.38 L858.32 30.94
M244.75 55.2 L243.56 55.6 L242.75 56.8 L242.35 58.8 L242.35 60 L242.75 62 L243.56 63.2 L244.75 63.6 L245.56 63.6 L246.75 63.2 L247.56 62 L247.96 60 L247.96 58.8 L247.56 56.8 L246.75 55.6 L245.56 55.2 L244.75 55.2 M251.72 51.52 L251.72 57.4 M251.72 54.6 L252.56 53.76 L253.12 53.48 L253.97 53.48 L254.53 53.76 L254.81 54.6 L254.81 57.4 M259.18 55.2 L263.57 55.2 L261.18 58.4 L262.38 58.4 L263.18 58.8 L263.57 59.2 L263.98 60.4 L263.98 61.2 L263.57 62.4 L262.77 63.2 L261.57 63.6 L260.38 63.6 L259.18 63.2 L258.77 62.8 L258.38 62 M271.18 55.2 L267.18 55.2 L266.77 58.8 L267.18 58.4 L268.38 58 L269.57 58 L270.77 58.4 L271.57 59.2 L271.98 60.4 L271.98 61.2 L271.57 62.4 L270.77 63.2 L269.57 63.6 L268.38 63.6 L267.18 63.2 L266.77 62.8 L266.38 62 M275.75 53.48 L275.75 57.4 M275.75 54.6 L276.58 53.76 L277.14 53.48 L277.99 53.48 L278.55 53.76 L278.82 54.6 L278.82 57.4 M278.82 54.6 L279.67 53.76 L280.23 53.48 L281.06 53.48 L281.62 53.76 L281.9 54.6 L281.9 57.4 M289.48 55.2 L285.48 60.8 L291.48 60.8 M289.48 55.2 L289.48 63.6 M295.88 55.2 L294.68 55.6 L293.88 56.8 L293.48 58.8 L293.48 60 L293.88 62 L294.68 63.2 L295.88 63.6 L296.68 63.6 L297.88 63.2 L298.68 62 L299.07 60 L299.07 58.8 L298.68 56.8 L297.88 55.6 L296.68 55.2 L295.88 55.2 M305.64 54.32 L305.37 53.76 L304.52 53.48 L303.69 53.48 L302.85 53.76 L302.56 54.32 L302.85 54.88 L303.4 55.16 L304.81 55.44 L305.37 55.72 L305.64 56.28 L305.64 56.56 L305.37 57.12 L304.52 57.4 L303.69 57.4 L302.85 57.12 L302.56 56.56
M313.61 55.2 L312.4 55.6 L311.61 56.8 L311.2 58.8 L311.2 60 L311.61 62 L312.4 63.2 L313.61 63.6 L314.4 63.6 L315.61 63.2 L316.4 62 L316.81 60 L316.81 58.8 L316.4 56.8 L315.61 55.6 L314.4 55.2 L313.61 55.2 M320.57 51.52 L320.57 57.4 M320.57 54.6 L321.42 53.76 L321.98 53.48 L322.81 53.48 L323.38 53.76 L323.65 54.6 L323.65 57.4 M328.02 55.2 L332.43 55.2 L330.02 58.4 L331.23 58.4 L332.02 58.8 L332.43 59.2 L332.82 60.4 L332.82 61.2 L332.43 62.4 L331.62 63.2 L330.43 63.6 L329.23 63.6 L328.02 63.2 L327.62 62.8 L327.23 62 M340.02 55.2 L336.02 55.2 L335.62 58.8 L336.02 58.4 L337.23 58 L338.43 58 L339.62 58.4 L340.43 59.2 L340.82 60.4 L340.82 61.2 L340.43 62.4 L339.62 63.2 L338.43 63.6 L337.23 63.6 L336.02 63.2 L335.62 62.8 L335.23 62 M344.59 53.48 L344.59 57.4 M344.59 54.6 L345.44 53.76 L346 53.48 L346.83 53.48 L347.39 53.76 L347.68 54.6 L347.68 57.4 M347.68 54.6 L348.51 53.76 L349.07 53.48 L349.91 53.48 L350.48 53.76 L350.75 54.6 L350.75 57.4 M359.12 55.2 L355.12 55.2 L354.73 58.8 L355.12 58.4 L356.32 58 L357.52 58 L358.73 58.4 L359.52 59.2 L359.93 60.4 L359.93 61.2 L359.52 62.4 L358.73 63.2 L357.52 63.6 L356.32 63.6 L355.12 63.2 L354.73 62.8 L354.32 62 M364.73 55.2 L363.52 55.6 L362.73 56.8 L362.32 58.8 L362.32 60 L362.73 62 L363.52 63.2 L364.73 63.6 L365.52 63.6 L366.73 63.2 L367.52 62 L367.93 60 L367.93 58.8 L367.52 56.8 L366.73 55.6 L365.52 55.2 L364.73 55.2 M374.5 54.32 L374.21 53.76 L373.38 53.48 L372.53 53.48 L371.69 53.76 L371.41 54.32 L371.69 54.88 L372.25 55.16 L373.65 55.44 L374.21 55.72 L374.5 56.28 L374.5 56.56 L374.21 57.12 L373.38 57.4 L372.53 57.4 L371.69 57.12 L371.41 56.56
M382.46 55.2 L381.25 55.6 L380.46 56.8 L380.06 58.8 L380.06 60 L380.46 62 L381.25 63.2 L382.46 63.6 L383.25 63.6 L384.46 63.2 L385.25 62 L385.66 60 L385.66 58.8 L385.25 56.8 L384.46 55.6 L383.25 55.2 L382.46 55.2 M389.43 51.52 L389.43 57.4 M389.43 54.6 L390.27 53.76 L390.83 53.48 L391.67 53.48 L392.23 53.76 L392.5 54.6 L392.5 57.4 M396.88 55.2 L401.28 55.2 L398.88 58.4 L400.08 58.4 L400.88 58.8 L401.28 59.2 L401.68 60.4 L401.68 61.2 L401.28 62.4 L400.48 63.2 L399.28 63.6 L398.08 63.6 L396.88 63.2 L396.48 62.8 L396.08 62 M409.28 56.4 L408.88 55.6 L407.68 55.2 L406.88 55.2 L405.68 55.6 L404.88 56.8 L404.48 58.8 L404.48 60.8 L404.88 62.4 L405.68 63.2 L406.88 63.6 L407.28 63.6 L408.48 63.2 L409.28 62.4 L409.68 61.2 L409.68 60.8 L409.28 59.6 L408.48 58.8 L407.28 58.4 L406.88 58.4 L405.68 58.8 L404.88 59.6 L404.48 60.8 M413.44 53.48 L413.44 57.4 M413.44 54.6 L414.29 53.76 L414.85 53.48 L415.69 53.48 L416.25 53.76 L416.53 54.6 L416.53 57.4 M416.53 54.6 L417.37 53.76 L417.93 53.48 L418.76 53.48 L419.33 53.76 L419.61 54.6 L419.61 57.4 M425.58 55.2 L424.38 55.6 L423.58 56.8 L423.18 58.8 L423.18 60 L423.58 62 L424.38 63.2 L425.58 63.6 L426.38 63.6 L427.58 63.2 L428.38 62 L428.78 60 L428.78 58.8 L428.38 56.8 L427.58 55.6 L426.38 55.2 L425.58 55.2 M433.58 55.2 L432.38 55.6 L431.58 56.8 L431.18 58.8 L431.18 60 L431.58 62 L432.38 63.2 L433.58 63.6 L434.38 63.6 L435.58 63.2 L436.38 62 L436.78 60 L436.78 58.8 L436.38 56.8 L435.58 55.6 L434.38 55.2 L433.58 55.2 M443.35 54.32 L443.06 53.76 L442.23 53.48 L441.38 53.48 L440.55 53.76 L440.26 54.32 L440.55 54.88 L441.11 55.16 L442.5 55.44 L443.06 55.72 L443.35 56.28 L443.35 56.56 L443.06 57.12 L442.23 57.4 L441.38 57.4 L440.55 57.12 L440.26 56.56
M451.3 55.2 L450.1 55.6 L449.3 56.8 L448.9 58.8 L448.9 60 L449.3 62 L450.1 63.2 L451.3 63.6 L452.1 63.6 L453.3 63.2 L454.1 62 L454.5 60 L454.5 58.8 L454.1 56.8 L453.3 55.6 L452.1 55.2 L451.3 55.2 M458.27 51.52 L458.27 57.4 M458.27 54.6 L459.11 53.76 L459.67 53.48 L460.51 53.48 L461.07 53.76 L461.35 54.6 L461.35 57.4 M465.72 55.2 L470.12 55.2 L467.72 58.4 L468.92 58.4 L469.72 58.8 L470.12 59.2 L470.52 60.4 L470.52 61.2 L470.12 62.4 L469.32 63.2 L468.12 63.6 L466.92 63.6 L465.72 63.2 L465.32 62.8 L464.92 62 M478.12 56.4 L477.72 55.6 L476.52 55.2 L475.72 55.2 L474.52 55.6 L473.72 56.8 L473.32 58.8 L473.32 60.8 L473.72 62.4 L474.52 63.2 L475.72 63.6 L476.12 63.6 L477.32 63.2 L478.12 62.4 L478.52 61.2 L478.52 60.8 L478.12 59.6 L477.32 58.8 L476.12 58.4 L475.72 58.4 L474.52 58.8 L473.72 59.6 L473.32 60.8 M482.29 53.48 L482.29 57.4 M482.29 54.6 L483.13 53.76 L483.69 53.48 L484.53 53.48 L485.09 53.76 L485.37 54.6 L485.37 57.4 M485.37 54.6 L486.21 53.76 L486.77 53.48 L487.61 53.48 L488.17 53.76 L488.45 54.6 L488.45 57.4 M493.22 56.8 L494.02 56.4 L495.22 55.2 L495.22 63.6 M502.42 55.2 L501.22 55.6 L500.42 56.8 L500.02 58.8 L500.02 60 L500.42 62 L501.22 63.2 L502.42 63.6 L503.22 63.6 L504.42 63.2 L505.22 62 L505.62 60 L505.62 58.8 L505.22 56.8 L504.42 55.6 L503.22 55.2 L502.42 55.2 M512.19 54.32 L511.91 53.76 L511.07 53.48 L510.23 53.48 L509.39 53.76 L509.11 54.32 L509.39 54.88 L509.95 55.16 L511.35 55.44 L511.91 55.72 L512.19 56.28 L512.19 56.56 L511.91 57.12 L511.07 57.4 L510.23 57.4 L509.39 57.12 L509.11 56.56
M520.15 55.2 L518.95 55.6 L518.15 56.8 L517.75 58.8 L517.75 60 L518.15 62 L518.95 63.2 L520.15 63.6 L520.95 63.6 L522.15 63.2 L522.95 62 L523.35 60 L523.35 58.8 L522.95 56.8 L522.15 55.6 L520.95 55.2 L520.15 55.2 M527.12 51.52 L527.12 57.4 M527.12 54.6 L527.96 53.76 L528.52 53.48 L529.36 53.48 L529.92 53.76 L530.2 54.6 L530.2 57.4 M534.57 55.2 L538.97 55.2 L536.57 58.4 L537.77 58.4 L538.57 58.8 L538.97 59.2 L539.38 60.4 L539.38 61.2 L538.97 62.4 L538.17 63.2 L536.97 63.6 L535.77 63.6 L534.57 63.2 L534.17 62.8 L533.77 62 M546.97 56.4 L546.57 55.6 L545.38 55.2 L544.57 55.2 L543.38 55.6 L542.57 56.8 L542.17 58.8 L542.17 60.8 L542.57 62.4 L543.38 63.2 L544.57 63.6 L544.97 63.6 L546.17 63.2 L546.97 62.4 L547.38 61.2 L547.38 60.8 L546.97 59.6 L546.17 58.8 L544.97 58.4 L544.57 58.4 L543.38 58.8 L542.57 59.6 L542.17 60.8 M551.14 53.48 L551.14 57.4 M551.14 54.6 L551.98 53.76 L552.54 53.48 L553.38 53.48 L553.94 53.76 L554.22 54.6 L554.22 57.4 M554.22 54.6 L555.06 53.76 L555.62 53.48 L556.46 53.48 L557.02 53.76 L557.3 54.6 L557.3 57.4 M561.27 57.2 L561.27 56.8 L561.67 56 L562.07 55.6 L562.88 55.2 L564.47 55.2 L565.27 55.6 L565.67 56 L566.07 56.8 L566.07 57.6 L565.67 58.4 L564.88 59.6 L560.88 63.6 L566.47 63.6 M571.27 55.2 L570.07 55.6 L569.27 56.8 L568.88 58.8 L568.88 60 L569.27 62 L570.07 63.2 L571.27 63.6 L572.07 63.6 L573.27 63.2 L574.07 62 L574.47 60 L574.47 58.8 L574.07 56.8 L573.27 55.6 L572.07 55.2 L571.27 55.2 M581.04 54.32 L580.76 53.76 L579.92 53.48 L579.08 53.48 L578.24 53.76 L577.96 54.32 L578.24 54.88 L578.8 55.16 L580.2 55.44 L580.76 55.72 L581.04 56.28 L581.04 56.56 L580.76 57.12 L579.92 57.4 L579.08 57.4 L578.24 57.12 L577.96 56.56
M589 55.2 L587.8 55.6 L587 56.8 L586.61 58.8 L586.61 60 L587 62 L587.8 63.2 L589 63.6 L589.8 63.6 L591 63.2 L591.8 62 L592.2 60 L592.2 58.8 L591.8 56.8 L591 55.6 L589.8 55.2 L589 55.2 M595.98 51.52 L595.98 57.4 M595.98 54.6 L596.81 53.76 L597.38 53.48 L598.21 53.48 L598.77 53.76 L599.05 54.6 L599.05 57.4 M603.42 55.2 L607.82 55.2 L605.42 58.4 L606.62 58.4 L607.42 58.8 L607.82 59.2 L608.23 60.4 L608.23 61.2 L607.82 62.4 L607.02 63.2 L605.82 63.6 L604.62 63.6 L603.42 63.2 L603.02 62.8 L602.62 62 M615.82 56.4 L615.42 55.6 L614.23 55.2 L613.42 55.2 L612.23 55.6 L611.42 56.8 L611.02 58.8 L611.02 60.8 L611.42 62.4 L612.23 63.2 L613.42 63.6 L613.82 63.6 L615.02 63.2 L615.82 62.4 L616.23 61.2 L616.23 60.8 L615.82 59.6 L615.02 58.8 L613.82 58.4 L613.42 58.4 L612.23 58.8 L611.42 59.6 L611.02 60.8 M620 53.48 L620 57.4 M620 54.6 L620.83 53.76 L621.39 53.48 L622.24 53.48 L622.79 53.76 L623.07 54.6 L623.07 57.4 M623.07 54.6 L623.91 53.76 L624.48 53.48 L625.31 53.48 L625.88 53.76 L626.15 54.6 L626.15 57.4 M630.52 55.2 L634.92 55.2 L632.52 58.4 L633.73 58.4 L634.52 58.8 L634.92 59.2 L635.32 60.4 L635.32 61.2 L634.92 62.4 L634.12 63.2 L632.92 63.6 L631.73 63.6 L630.52 63.2 L630.12 62.8 L629.73 62 M640.12 55.2 L638.92 55.6 L638.12 56.8 L637.73 58.8 L637.73 60 L638.12 62 L638.92 63.2 L640.12 63.6 L640.92 63.6 L642.12 63.2 L642.92 62 L643.32 60 L643.32 58.8 L642.92 56.8 L642.12 55.6 L640.92 55.2 L640.12 55.2 M649.89 54.32 L649.62 53.76 L648.77 53.48 L647.93 53.48 L647.1 53.76 L646.81 54.32 L647.1 54.88 L647.65 55.16 L649.05 55.44 L649.62 55.72 L649.89 56.28 L649.89 56.56 L649.62 57.12 L648.77 57.4 L647.93 57.4 L647.1 57.12 L646.81 56.56
M657.85 55.2 L656.65 55.6 L655.85 56.8 L655.45 58.8 L655.45 60 L655.85 62 L656.65 63.2 L657.85 63.6 L658.65 63.6 L659.85 63.2 L660.65 62 L661.05 60 L661.05 58.8 L660.65 56.8 L659.85 55.6 L658.65 55.2 L657.85 55.2 M664.82 51.52 L664.82 57.4 M664.82 54.6 L665.66 53.76 L666.22 53.48 L667.06 53.48 L667.62 53.76 L667.9 54.6 L667.9 57.4 M672.27 55.2 L676.67 55.2 L674.27 58.4 L675.47 58.4 L676.27 58.8 L676.67 59.2 L677.07 60.4 L677.07 61.2 L676.67 62.4 L675.87 63.2 L674.67 63.6 L673.47 63.6 L672.27 63.2 L671.87 62.8 L671.47 62 M684.67 56.4 L684.27 55.6 L683.07 55.2 L682.27 55.2 L681.07 55.6 L680.27 56.8 L679.87 58.8 L679.87 60.8 L680.27 62.4 L681.07 63.2 L682.27 63.6 L682.67 63.6 L683.87 63.2 L684.67 62.4 L685.07 61.2 L685.07 60.8 L684.67 59.6 L683.87 58.8 L682.67 58.4 L682.27 58.4 L681.07 58.8 L680.27 59.6 L679.87 60.8 M688.84 53.48 L688.84 57.4 M688.84 54.6 L689.68 53.76 L690.24 53.48 L691.08 53.48 L691.64 53.76 L691.92 54.6 L691.92 57.4 M691.92 54.6 L692.76 53.76 L693.32 53.48 L694.16 53.48 L694.72 53.76 L695 54.6 L695 57.4 M702.57 55.2 L698.57 60.8 L704.57 60.8 M702.57 55.2 L702.57 63.6 M708.97 55.2 L707.77 55.6 L706.97 56.8 L706.57 58.8 L706.57 60 L706.97 62 L707.77 63.2 L708.97 63.6 L709.77 63.6 L710.97 63.2 L711.77 62 L712.17 60 L712.17 58.8 L711.77 56.8 L710.97 55.6 L709.77 55.2 L708.97 55.2 M718.74 54.32 L718.46 53.76 L717.62 53.48 L716.78 53.48 L715.94 53.76 L715.66 54.32 L715.94 54.88 L716.5 55.16 L717.9 55.44 L718.46 55.72 L718.74 56.28 L718.74 56.56 L718.46 57.12 L717.62 57.4 L716.78 57.4 L715.94 57.12 L715.66 56.56
M714.8 118.2 L714.8 125.4 M711.2 121.8 L718.4 121.8 M726 117 L722 117 L721.6 120.6 L722 120.2 L723.2 119.8 L724.4 119.8 L725.6 120.2 L726.4 121 L726.8 122.2 L726.8 123 L726.4 124.2 L725.6 125 L724.4 125.4 L723.2 125.4 L722 125 L721.6 124.6 L721.2 123.8 M734.4 119.8 L734 121 L733.2 121.8 L732 122.2 L731.6 122.2 L730.4 121.8 L729.6 121 L729.2 119.8 L729.2 119.4 L729.6 118.2 L730.4 117.4 L731.6 117 L732 117 L733.2 117.4 L734 118.2 L734.4 119.8 L734.4 121.8 L734 123.8 L733.2 125 L732 125.4 L731.2 125.4 L730 125 L729.6 124.2 M741.48 117.92 L741.16 118.91 L740.32 119.52 L739.28 119.52 L738.44 118.91 L738.12 117.92 L738.44 116.93 L739.28 116.32 L740.32 116.32 L741.16 116.93 L741.48 117.92 M748.4 117 L744.4 122.6 L750.4 122.6 M748.4 117 L748.4 125.4 M758 117 L754 125.4 M752.4 117 L758 117 M761.8 113.8 L761.8 115.88 M768.7 117 L767.5 117.4 L766.7 118.6 L766.3 120.6 L766.3 121.8 L766.7 123.8 L767.5 125 L768.7 125.4 L769.5 125.4 L770.7 125 L771.5 123.8 L771.9 121.8 L771.9 120.6 L771.5 118.6 L770.7 117.4 L769.5 117 L768.7 117 M776.7 117 L775.5 117.4 L774.7 118.6 L774.3 120.6 L774.3 121.8 L774.7 123.8 L775.5 125 L776.7 125.4 L777.5 125.4 L778.7 125 L779.5 123.8 L779.9 121.8 L779.9 120.6 L779.5 118.6 L778.7 117.4 L777.5 117 L776.7 117 M784.3 113.8 L784.3 115.88 M786.9 113.8 L786.9 115.88
M714.8 172.95 L714.8 180.15 M711.2 176.55 L718.4 176.55 M726 171.75 L722 171.75 L721.6 175.35 L722 174.95 L723.2 174.55 L724.4 174.55 L725.6 174.95 L726.4 175.75 L726.8 176.95 L726.8 177.75 L726.4 178.95 L725.6 179.75 L724.4 180.15 L723.2 180.15 L722 179.75 L721.6 179.35 L721.2 178.55 M734.4 174.55 L734 175.75 L733.2 176.55 L732 176.95 L731.6 176.95 L730.4 176.55 L729.6 175.75 L729.2 174.55 L729.2 174.15 L729.6 172.95 L730.4 172.15 L731.6 171.75 L732 171.75 L733.2 172.15 L734 172.95 L734.4 174.55 L734.4 176.55 L734 178.55 L733.2 179.75 L732 180.15 L731.2 180.15 L730 179.75 L729.6 178.95 M741.48 172.67 L741.16 173.66 L740.32 174.27 L739.28 174.27 L738.44 173.66 L738.12 172.67 L738.44 171.68 L739.28 171.07 L740.32 171.07 L741.16 171.68 L741.48 172.67 M748.4 171.75 L744.4 177.35 L750.4 177.35 M748.4 171.75 L748.4 180.15 M754.4 171.75 L753.2 172.15 L752.8 172.95 L752.8 173.75 L753.2 174.55 L754 174.95 L755.6 175.35 L756.8 175.75 L757.6 176.55 L758 177.35 L758 178.55 L757.6 179.35 L757.2 179.75 L756 180.15 L754.4 180.15 L753.2 179.75 L752.8 179.35 L752.4 178.55 L752.4 177.35 L752.8 176.55 L753.6 175.75 L754.8 175.35 L756.4 174.95 L757.2 174.55 L757.6 173.75 L757.6 172.95 L757.2 172.15 L756 171.75 L754.4 171.75 M761.8 168.55 L761.8 170.63 M768.7 171.75 L767.5 172.15 L766.7 173.35 L766.3 175.35 L766.3 176.55 L766.7 178.55 L767.5 179.75 L768.7 180.15 L769.5 180.15 L770.7 179.75 L771.5 178.55 L771.9 176.55 L771.9 175.35 L771.5 173.35 L770.7 172.15 L769.5 171.75 L768.7 171.75 M776.7 171.75 L775.5 172.15 L774.7 173.35 L774.3 175.35 L774.3 176.55 L774.7 178.55 L775.5 179.75 L776.7 180.15 L777.5 180.15 L778.7 179.75 L779.5 178.55 L779.9 176.55 L779.9 175.35 L779.5 173.35 L778.7 172.15 L777.5 171.75 L776.7 171.75 M784.3 168.55 L784.3 170.63 M786.9 168.55 L786.9 170.63
M714.8 227.7 L714.8 234.9 M711.2 231.3 L718.4 231.3 M726 226.5 L722 226.5 L721.6 230.1 L722 229.7 L723.2 229.3 L724.4 229.3 L725.6 229.7 L726.4 230.5 L726.8 231.7 L726.8 232.5 L726.4 233.7 L725.6 234.5 L724.4 234.9 L723.2 234.9 L722 234.5 L721.6 234.1 L721.2 233.3 M734.4 229.3 L734 230.5 L733.2 231.3 L732 231.7 L731.6 231.7 L730.4 231.3 L729.6 230.5 L729.2 229.3 L729.2 228.9 L729.6 227.7 L730.4 226.9 L731.6 226.5 L732 226.5 L733.2 226.9 L734 227.7 L734.4 229.3 L734.4 231.3 L734 233.3 L733.2 234.5 L732 234.9 L731.2 234.9 L730 234.5 L729.6 233.7 M741.48 227.42 L741.16 228.41 L740.32 229.02 L739.28 229.02 L738.44 228.41 L738.12 227.42 L738.44 226.43 L739.28 225.82 L740.32 225.82 L741.16 226.43 L741.48 227.42 M748.4 226.5 L744.4 232.1 L750.4 232.1 M748.4 226.5 L748.4 234.9 M757.6 229.3 L757.2 230.5 L756.4 231.3 L755.2 231.7 L754.8 231.7 L753.6 231.3 L752.8 230.5 L752.4 229.3 L752.4 228.9 L752.8 227.7 L753.6 226.9 L754.8 226.5 L755.2 226.5 L756.4 226.9 L757.2 227.7 L757.6 229.3 L757.6 231.3 L757.2 233.3 L756.4 234.5 L755.2 234.9 L754.4 234.9 L753.2 234.5 L752.8 233.7 M761.8 223.3 L761.8 225.38 M768.7 226.5 L767.5 226.9 L766.7 228.1 L766.3 230.1 L766.3 231.3 L766.7 233.3 L767.5 234.5 L768.7 234.9 L769.5 234.9 L770.7 234.5 L771.5 233.3 L771.9 231.3 L771.9 230.1 L771.5 228.1 L770.7 226.9 L769.5 226.5 L768.7 226.5 M776.7 226.5 L775.5 226.9 L774.7 228.1 L774.3 230.1 L774.3 231.3 L774.7 233.3 L775.5 234.5 L776.7 234.9 L777.5 234.9 L778.7 234.5 L779.5 233.3 L779.9 231.3 L779.9 230.1 L779.5 228.1 L778.7 226.9 L777.5 226.5 L776.7 226.5 M784.3 223.3 L784.3 225.38 M786.9 223.3 L786.9 225.38
M714.8 282.45 L714.8 289.65 M711.2 286.05 L718.4 286.05 M726 281.25 L722 281.25 L721.6 284.85 L722 284.45 L723.2 284.05 L724.4 284.05 L725.6 284.45 L726.4 285.25 L726.8 286.45 L726.8 287.25 L726.4 288.45 L725.6 289.25 L724.4 289.65 L723.2 289.65 L722 289.25 L721.6 288.85 L721.2 288.05 M734.4 284.05 L734 285.25 L733.2 286.05 L732 286.45 L731.6 286.45 L730.4 286.05 L729.6 285.25 L729.2 284.05 L729.2 283.65 L729.6 282.45 L730.4 281.65 L731.6 281.25 L732 281.25 L733.2 281.65 L734 282.45 L734.4 284.05 L734.4 286.05 L734 288.05 L733.2 289.25 L732 289.65 L731.2 289.65 L730 289.25 L729.6 288.45 M741.48 282.17 L741.16 283.16 L740.32 283.77 L739.28 283.77 L738.44 283.16 L738.12 282.17 L738.44 281.18 L739.28 280.57 L740.32 280.57 L741.16 281.18 L741.48 282.17 M749.2 281.25 L745.2 281.25 L744.8 284.85 L745.2 284.45 L746.4 284.05 L747.6 284.05 L748.8 284.45 L749.6 285.25 L750 286.45 L750 287.25 L749.6 288.45 L748.8 289.25 L747.6 289.65 L746.4 289.65 L745.2 289.25 L744.8 288.85 L744.4 288.05 M754.8 281.25 L753.6 281.65 L752.8 282.85 L752.4 284.85 L752.4 286.05 L752.8 288.05 L753.6 289.25 L754.8 289.65 L755.6 289.65 L756.8 289.25 L757.6 288.05 L758 286.05 L758 284.85 L757.6 282.85 L756.8 281.65 L755.6 281.25 L754.8 281.25 M761.8 278.05 L761.8 280.13 M768.7 281.25 L767.5 281.65 L766.7 282.85 L766.3 284.85 L766.3 286.05 L766.7 288.05 L767.5 289.25 L768.7 289.65 L769.5 289.65 L770.7 289.25 L771.5 288.05 L771.9 286.05 L771.9 284.85 L771.5 282.85 L770.7 281.65 L769.5 281.25 L768.7 281.25 M776.7 281.25 L775.5 281.65 L774.7 282.85 L774.3 284.85 L774.3 286.05 L774.7 288.05 L775.5 289.25 L776.7 289.65 L777.5 289.65 L778.7 289.25 L779.5 288.05 L779.9 286.05 L779.9 284.85 L779.5 282.85 L778.7 281.65 L777.5 281.25 L776.7 281.25 M784.3 278.05 L784.3 280.13 M786.9 278.05 L786.9 280.13
M714.8 337.2 L714.8 344.4 M711.2 340.8 L718.4 340.8 M726 336 L722 336 L721.6 339.6 L722 339.2 L723.2 338.8 L724.4 338.8 L725.6 339.2 L726.4 340 L726.8 341.2 L726.8 342 L726.4 343.2 L725.6 344 L724.4 344.4 L723.2 344.4 L722 344 L721.6 343.6 L721.2 342.8 M734.4 338.8 L734 340 L733.2 340.8 L732 341.2 L731.6 341.2 L730.4 340.8 L729.6 340 L729.2 338.8 L729.2 338.4 L729.6 337.2 L730.4 336.4 L731.6 336 L732 336 L733.2 336.4 L734 337.2 L734.4 338.8 L734.4 340.8 L734 342.8 L733.2 344 L732 344.4 L731.2 344.4 L730 344 L729.6 343.2 M741.48 336.92 L741.16 337.91 L740.32 338.52 L739.28 338.52 L738.44 337.91 L738.12 336.92 L738.44 335.93 L739.28 335.32 L740.32 335.32 L741.16 335.93 L741.48 336.92 M749.2 336 L745.2 336 L744.8 339.6 L745.2 339.2 L746.4 338.8 L747.6 338.8 L748.8 339.2 L749.6 340 L750 341.2 L750 342 L749.6 343.2 L748.8 344 L747.6 344.4 L746.4 344.4 L745.2 344 L744.8 343.6 L744.4 342.8 M753.6 337.6 L754.4 337.2 L755.6 336 L755.6 344.4 M761.8 332.8 L761.8 334.88 M768.7 336 L767.5 336.4 L766.7 337.6 L766.3 339.6 L766.3 340.8 L766.7 342.8 L767.5 344 L768.7 344.4 L769.5 344.4 L770.7 344 L771.5 342.8 L771.9 340.8 L771.9 339.6 L771.5 337.6 L770.7 336.4 L769.5 336 L768.7 336 M776.7 336 L775.5 336.4 L774.7 337.6 L774.3 339.6 L774.3 340.8 L774.7 342.8 L775.5 344 L776.7 344.4 L777.5 344.4 L778.7 344 L779.5 342.8 L779.9 340.8 L779.9 339.6 L779.5 337.6 L778.7 336.4 L777.5 336 L776.7 336 M784.3 332.8 L784.3 334.88 M786.9 332.8 L786.9 334.88
M714.8 391.95 L714.8 399.15 M711.2 395.55 L718.4 395.55 M726 390.75 L722 390.75 L721.6 394.35 L722 393.95 L723.2 393.55 L724.4 393.55 L725.6 393.95 L726.4 394.75 L726.8 395.95 L726.8 396.75 L726.4 397.95 L725.6 398.75 L724.4 399.15 L723.2 399.15 L722 398.75 L721.6 398.35 L721.2 397.55 M734.4 393.55 L734 394.75 L733.2 395.55 L732 395.95 L731.6 395.95 L730.4 395.55 L729.6 394.75 L729.2 393.55 L729.2 393.15 L729.6 391.95 L730.4 391.15 L731.6 390.75 L732 390.75 L733.2 391.15 L734 391.95 L734.4 393.55 L734.4 395.55 L734 397.55 L733.2 398.75 L732 399.15 L731.2 399.15 L730 398.75 L729.6 397.95 M741.48 391.67 L741.16 392.66 L740.32 393.27 L739.28 393.27 L738.44 392.66 L738.12 391.67 L738.44 390.68 L739.28 390.07 L740.32 390.07 L741.16 390.68 L741.48 391.67 M749.2 390.75 L745.2 390.75 L744.8 394.35 L745.2 393.95 L746.4 393.55 L747.6 393.55 L748.8 393.95 L749.6 394.75 L750 395.95 L750 396.75 L749.6 397.95 L748.8 398.75 L747.6 399.15 L746.4 399.15 L745.2 398.75 L744.8 398.35 L744.4 397.55 M752.8 392.75 L752.8 392.35 L753.2 391.55 L753.6 391.15 L754.4 390.75 L756 390.75 L756.8 391.15 L757.2 391.55 L757.6 392.35 L757.6 393.15 L757.2 393.95 L756.4 395.15 L752.4 399.15 L758 399.15 M761.8 387.55 L761.8 389.63 M768.7 390.75 L767.5 391.15 L766.7 392.35 L766.3 394.35 L766.3 395.55 L766.7 397.55 L767.5 398.75 L768.7 399.15 L769.5 399.15 L770.7 398.75 L771.5 397.55 L771.9 395.55 L771.9 394.35 L771.5 392.35 L770.7 391.15 L769.5 390.75 L768.7 390.75 M776.7 390.75 L775.5 391.15 L774.7 392.35 L774.3 394.35 L774.3 395.55 L774.7 397.55 L775.5 398.75 L776.7 399.15 L777.5 399.15 L778.7 398.75 L779.5 397.55 L779.9 395.55 L779.9 394.35 L779.5 392.35 L778.7 391.15 L777.5 390.75 L776.7 390.75 M784.3 387.55 L784.3 389.63 M786.9 387.55 L786.9 389.63
M714.8 446.7 L714.8 453.9 M711.2 450.3 L718.4 450.3 M726 445.5 L722 445.5 L721.6 449.1 L722 448.7 L723.2 448.3 L724.4 448.3 L725.6 448.7 L726.4 449.5 L726.8 450.7 L726.8 451.5 L726.4 452.7 L725.6 453.5 L724.4 453.9 L723.2 453.9 L722 453.5 L721.6 453.1 L721.2 452.3 M734.4 448.3 L734 449.5 L733.2 450.3 L732 450.7 L731.6 450.7 L730.4 450.3 L729.6 449.5 L729.2 448.3 L729.2 447.9 L729.6 446.7 L730.4 445.9 L731.6 445.5 L732 445.5 L733.2 445.9 L734 446.7 L734.4 448.3 L734.4 450.3 L734 452.3 L733.2 453.5 L732 453.9 L731.2 453.9 L730 453.5 L729.6 452.7 M741.48 446.42 L741.16 447.41 L740.32 448.02 L739.28 448.02 L738.44 447.41 L738.12 446.42 L738.44 445.43 L739.28 444.82 L740.32 444.82 L741.16 445.43 L741.48 446.42 M749.2 445.5 L745.2 445.5 L744.8 449.1 L745.2 448.7 L746.4 448.3 L747.6 448.3 L748.8 448.7 L749.6 449.5 L750 450.7 L750 451.5 L749.6 452.7 L748.8 453.5 L747.6 453.9 L746.4 453.9 L745.2 453.5 L744.8 453.1 L744.4 452.3 M753.2 445.5 L757.6 445.5 L755.2 448.7 L756.4 448.7 L757.2 449.1 L757.6 449.5 L758 450.7 L758 451.5 L757.6 452.7 L756.8 453.5 L755.6 453.9 L754.4 453.9 L753.2 453.5 L752.8 453.1 L752.4 452.3 M761.8 442.3 L761.8 444.38 M768.7 445.5 L767.5 445.9 L766.7 447.1 L766.3 449.1 L766.3 450.3 L766.7 452.3 L767.5 453.5 L768.7 453.9 L769.5 453.9 L770.7 453.5 L771.5 452.3 L771.9 450.3 L771.9 449.1 L771.5 447.1 L770.7 445.9 L769.5 445.5 L768.7 445.5 M776.7 445.5 L775.5 445.9 L774.7 447.1 L774.3 449.1 L774.3 450.3 L774.7 452.3 L775.5 453.5 L776.7 453.9 L777.5 453.9 L778.7 453.5 L779.5 452.3 L779.9 450.3 L779.9 449.1 L779.5 447.1 L778.7 445.9 L777.5 445.5 L776.7 445.5 M784.3 442.3 L784.3 444.38 M786.9 442.3 L786.9 444.38
M714.8 501.45 L714.8 508.65 M711.2 505.05 L718.4 505.05 M726 500.25 L722 500.25 L721.6 503.85 L722 503.45 L723.2 503.05 L724.4 503.05 L725.6 503.45 L726.4 504.25 L726.8 505.45 L726.8 506.25 L726.4 507.45 L725.6 508.25 L724.4 508.65 L723.2 508.65 L722 508.25 L721.6 507.85 L721.2 507.05 M734.4 503.05 L734 504.25 L733.2 505.05 L732 505.45 L731.6 505.45 L730.4 505.05 L729.6 504.25 L729.2 503.05 L729.2 502.65 L729.6 501.45 L730.4 500.65 L731.6 500.25 L732 500.25 L733.2 500.65 L734 501.45 L734.4 503.05 L734.4 505.05 L734 507.05 L733.2 508.25 L732 508.65 L731.2 508.65 L730 508.25 L729.6 507.45 M741.48 501.17 L741.16 502.16 L740.32 502.77 L739.28 502.77 L738.44 502.16 L738.12 501.17 L738.44 500.18 L739.28 499.57 L740.32 499.57 L741.16 500.18 L741.48 501.17 M749.2 500.25 L745.2 500.25 L744.8 503.85 L745.2 503.45 L746.4 503.05 L747.6 503.05 L748.8 503.45 L749.6 504.25 L750 505.45 L750 506.25 L749.6 507.45 L748.8 508.25 L747.6 508.65 L746.4 508.65 L745.2 508.25 L744.8 507.85 L744.4 507.05 M756.4 500.25 L752.4 505.85 L758.4 505.85 M756.4 500.25 L756.4 508.65 M761.8 497.05 L761.8 499.13 M768.7 500.25 L767.5 500.65 L766.7 501.85 L766.3 503.85 L766.3 505.05 L766.7 507.05 L767.5 508.25 L768.7 508.65 L769.5 508.65 L770.7 508.25 L771.5 507.05 L771.9 505.05 L771.9 503.85 L771.5 501.85 L770.7 500.65 L769.5 500.25 L768.7 500.25 M776.7 500.25 L775.5 500.65 L774.7 501.85 L774.3 503.85 L774.3 505.05 L774.7 507.05 L775.5 508.25 L776.7 508.65 L777.5 508.65 L778.7 508.25 L779.5 507.05 L779.9 505.05 L779.9 503.85 L779.5 501.85 L778.7 500.65 L777.5 500.25 L776.7 500.25 M784.3 497.05 L784.3 499.13 M786.9 497.05 L786.9 499.13
M257.64 553.63 L263.38 553.63 L260.25 557.81 L261.82 557.81 L262.86 558.33 L263.38 558.85 L263.91 560.42 L263.91 561.47 L263.38 563.03 L262.34 564.08 L260.77 564.6 L259.2 564.6 L257.64 564.08 L257.11 563.56 L256.59 562.51 M270.18 553.63 L268.61 554.15 L267.56 555.72 L267.04 558.33 L267.04 559.9 L267.56 562.51 L268.61 564.08 L270.18 564.6 L271.22 564.6 L272.79 564.08 L273.83 562.51 L274.36 559.9 L274.36 558.33 L273.83 555.72 L272.79 554.15 L271.22 553.63 L270.18 553.63 M280.63 553.63 L279.06 554.15 L278.01 555.72 L277.49 558.33 L277.49 559.9 L278.01 562.51 L279.06 564.08 L280.63 564.6 L281.67 564.6 L283.24 564.08 L284.28 562.51 L284.81 559.9 L284.81 558.33 L284.28 555.72 L283.24 554.15 L281.67 553.63 L280.63 553.63
M206.63 516.96 L206.63 511.21 L210.81 514.35 L210.81 512.78 L211.33 511.74 L211.85 511.21 L213.42 510.69 L214.47 510.69 L216.03 511.21 L217.08 512.26 L217.6 513.83 L217.6 515.39 L217.08 516.96 L216.56 517.48 L215.51 518.01 M206.63 504.42 L207.15 505.99 L208.72 507.03 L211.33 507.56 L212.9 507.56 L215.51 507.03 L217.08 505.99 L217.6 504.42 L217.6 503.38 L217.08 501.81 L215.51 500.76 L212.9 500.24 L211.33 500.24 L208.72 500.76 L207.15 501.81 L206.63 503.38 L206.63 504.42 M206.63 493.97 L207.15 495.54 L208.72 496.58 L211.33 497.11 L212.9 497.11 L215.51 496.58 L217.08 495.54 L217.6 493.97 L217.6 492.93 L217.08 491.36 L215.51 490.31 L212.9 489.79 L211.33 489.79 L208.72 490.31 L207.15 491.36 L206.63 492.93 L206.63 493.97
M354.52 553.63 L349.29 560.94 L357.13 560.94 M354.52 553.63 L354.52 564.6 M362.88 553.63 L361.31 554.15 L360.26 555.72 L359.74 558.33 L359.74 559.9 L360.26 562.51 L361.31 564.08 L362.88 564.6 L363.92 564.6 L365.49 564.08 L366.53 562.51 L367.06 559.9 L367.06 558.33 L366.53 555.72 L365.49 554.15 L363.92 553.63 L362.88 553.63 M373.33 553.63 L371.76 554.15 L370.71 555.72 L370.19 558.33 L370.19 559.9 L370.71 562.51 L371.76 564.08 L373.33 564.6 L374.37 564.6 L375.94 564.08 L376.98 562.51 L377.51 559.9 L377.51 558.33 L376.98 555.72 L375.94 554.15 L374.37 553.63 L373.33 553.63
M206.63 419.73 L213.94 424.96 L213.94 417.12 M206.63 419.73 L217.6 419.73 M206.63 411.37 L207.15 412.94 L208.72 413.98 L211.33 414.51 L212.9 414.51 L215.51 413.98 L217.08 412.94 L217.6 411.37 L217.6 410.33 L217.08 408.76 L215.51 407.71 L212.9 407.19 L211.33 407.19 L208.72 407.71 L207.15 408.76 L206.63 410.33 L206.63 411.37 M206.63 400.92 L207.15 402.49 L208.72 403.53 L211.33 404.06 L212.9 404.06 L215.51 403.53 L217.08 402.49 L217.6 400.92 L217.6 399.88 L217.08 398.31 L215.51 397.26 L212.9 396.74 L211.33 396.74 L208.72 397.26 L207.15 398.31 L206.63 399.88 L206.63 400.92
M448.26 553.63 L443.04 553.63 L442.51 558.33 L443.04 557.81 L444.6 557.28 L446.17 557.28 L447.74 557.81 L448.78 558.85 L449.31 560.42 L449.31 561.47 L448.78 563.03 L447.74 564.08 L446.17 564.6 L444.6 564.6 L443.04 564.08 L442.51 563.56 L441.99 562.51 M455.58 553.63 L454.01 554.15 L452.96 555.72 L452.44 558.33 L452.44 559.9 L452.96 562.51 L454.01 564.08 L455.58 564.6 L456.62 564.6 L458.19 564.08 L459.23 562.51 L459.76 559.9 L459.76 558.33 L459.23 555.72 L458.19 554.15 L456.62 553.63 L455.58 553.63 M466.03 553.63 L464.46 554.15 L463.41 555.72 L462.89 558.33 L462.89 559.9 L463.41 562.51 L464.46 564.08 L466.03 564.6 L467.07 564.6 L468.64 564.08 L469.68 562.51 L470.21 559.9 L470.21 558.33 L469.68 555.72 L468.64 554.15 L467.07 553.63 L466.03 553.63
M206.63 325.64 L206.63 330.86 L211.33 331.38 L210.81 330.86 L210.28 329.29 L210.28 327.73 L210.81 326.16 L211.85 325.11 L213.42 324.59 L214.47 324.59 L216.03 325.11 L217.08 326.16 L217.6 327.73 L217.6 329.29 L217.08 330.86 L216.56 331.38 L215.51 331.91 M206.63 318.32 L207.15 319.89 L208.72 320.93 L211.33 321.46 L212.9 321.46 L215.51 320.93 L217.08 319.89 L217.6 318.32 L217.6 317.28 L217.08 315.71 L215.51 314.66 L212.9 314.14 L211.33 314.14 L208.72 314.66 L207.15 315.71 L206.63 317.28 L206.63 318.32 M206.63 307.87 L207.15 309.44 L208.72 310.48 L211.33 311.01 L212.9 311.01 L215.51 310.48 L217.08 309.44 L217.6 307.87 L217.6 306.83 L217.08 305.26 L215.51 304.21 L212.9 303.69 L211.33 303.69 L208.72 304.21 L207.15 305.26 L206.63 306.83 L206.63 307.87
M541.22 555.2 L540.7 554.15 L539.13 553.63 L538.09 553.63 L536.52 554.15 L535.48 555.72 L534.95 558.33 L534.95 560.94 L535.48 563.03 L536.52 564.08 L538.09 564.6 L538.61 564.6 L540.18 564.08 L541.22 563.03 L541.75 561.47 L541.75 560.94 L541.22 559.38 L540.18 558.33 L538.61 557.81 L538.09 557.81 L536.52 558.33 L535.48 559.38 L534.95 560.94 M548.02 553.63 L546.45 554.15 L545.4 555.72 L544.88 558.33 L544.88 559.9 L545.4 562.51 L546.45 564.08 L548.02 564.6 L549.06 564.6 L550.63 564.08 L551.67 562.51 L552.2 559.9 L552.2 558.33 L551.67 555.72 L550.63 554.15 L549.06 553.63 L548.02 553.63 M558.47 553.63 L556.9 554.15 L555.85 555.72 L555.33 558.33 L555.33 559.9 L555.85 562.51 L556.9 564.08 L558.47 564.6 L559.51 564.6 L561.08 564.08 L562.12 562.51 L562.65 559.9 L562.65 558.33 L562.12 555.72 L561.08 554.15 L559.51 553.63 L558.47 553.63
M208.19 232.33 L207.15 232.85 L206.63 234.42 L206.63 235.46 L207.15 237.03 L208.72 238.07 L211.33 238.6 L213.94 238.6 L216.03 238.07 L217.08 237.03 L217.6 235.46 L217.6 234.94 L217.08 233.37 L216.03 232.33 L214.47 231.8 L213.94 231.8 L212.38 232.33 L211.33 233.37 L210.81 234.94 L210.81 235.46 L211.33 237.03 L212.38 238.07 L213.94 238.6 M206.63 225.53 L207.15 227.1 L208.72 228.15 L211.33 228.67 L212.9 228.67 L215.51 228.15 L217.08 227.1 L217.6 225.53 L217.6 224.49 L217.08 222.92 L215.51 221.88 L212.9 221.35 L211.33 221.35 L208.72 221.88 L207.15 222.92 L206.63 224.49 L206.63 225.53 M206.63 215.08 L207.15 216.65 L208.72 217.7 L211.33 218.22 L212.9 218.22 L215.51 217.7 L217.08 216.65 L217.6 215.08 L217.6 214.04 L217.08 212.47 L215.51 211.43 L212.9 210.9 L211.33 210.9 L208.72 211.43 L207.15 212.47 L206.63 214.04 L206.63 215.08
M634.71 553.63 L629.48 564.6 M627.39 553.63 L634.71 553.63 M640.98 553.63 L639.41 554.15 L638.37 555.72 L637.84 558.33 L637.84 559.9 L638.37 562.51 L639.41 564.08 L640.98 564.6 L642.02 564.6 L643.59 564.08 L644.63 562.51 L645.16 559.9 L645.16 558.33 L644.63 555.72 L643.59 554.15 L642.02 553.63 L640.98 553.63 M651.43 553.63 L649.86 554.15 L648.82 555.72 L648.29 558.33 L648.29 559.9 L648.82 562.51 L649.86 564.08 L651.43 564.6 L652.47 564.6 L654.04 564.08 L655.09 562.51 L655.61 559.9 L655.61 558.33 L655.09 555.72 L654.04 554.15 L652.47 553.63 L651.43 553.63
M206.63 138.49 L217.6 143.72 M206.63 145.81 L206.63 138.49 M206.63 132.22 L207.15 133.79 L208.72 134.84 L211.33 135.36 L212.9 135.36 L215.51 134.84 L217.08 133.79 L217.6 132.22 L217.6 131.18 L217.08 129.61 L215.51 128.57 L212.9 128.04 L211.33 128.04 L208.72 128.57 L207.15 129.61 L206.63 131.18 L206.63 132.22 M206.63 121.77 L207.15 123.34 L208.72 124.39 L211.33 124.91 L212.9 124.91 L215.51 124.39 L217.08 123.34 L217.6 121.77 L217.6 120.73 L217.08 119.16 L215.51 118.12 L212.9 117.59 L211.33 117.59 L208.72 118.12 L207.15 119.16 L206.63 120.73 L206.63 121.77
M436.41 587.63 L443.73 598.6 M443.73 587.63 L436.41 598.6 M455.74 587.63 L455.74 598.6 M455.74 587.63 L460.45 587.63 L462.01 588.15 L462.54 588.67 L463.06 589.72 L463.06 591.28 L462.54 592.33 L462.01 592.85 L460.45 593.38 L455.74 593.38 M466.19 587.63 L466.72 588.15 L467.24 587.63 L466.72 587.11 L466.19 587.63 M466.72 591.28 L466.72 598.6 M470.37 591.28 L476.12 598.6 M476.12 591.28 L470.37 598.6 M479.26 594.42 L485.53 594.42 L485.53 593.38 L485 592.33 L484.48 591.81 L483.44 591.28 L481.87 591.28 L480.82 591.81 L479.78 592.85 L479.26 594.42 L479.26 595.47 L479.78 597.03 L480.82 598.08 L481.87 598.6 L483.44 598.6 L484.48 598.08 L485.53 597.03 M489.18 587.63 L489.18 598.6 M498.59 592.85 L498.07 591.81 L496.5 591.28 L494.93 591.28 L493.36 591.81 L492.84 592.85 L493.36 593.9 L494.41 594.42 L497.02 594.94 L498.07 595.47 L498.59 596.51 L498.59 597.03 L498.07 598.08 L496.5 598.6 L494.93 598.6 L493.36 598.08 L492.84 597.03
M181.63 337.39 L186.85 333.21 L192.6 333.21 M181.63 329.03 L186.85 333.21 M181.63 318.06 L192.6 318.06 M181.63 318.06 L181.63 313.35 L182.15 311.79 L182.67 311.26 L183.72 310.74 L185.28 310.74 L186.33 311.26 L186.85 311.79 L187.38 313.35 L187.38 318.06 M181.63 307.61 L182.15 307.08 L181.63 306.56 L181.1 307.08 L181.63 307.61 M185.28 307.08 L192.6 307.08 M185.28 303.43 L192.6 297.68 M185.28 297.68 L192.6 303.43 M188.42 294.54 L188.42 288.27 L187.38 288.27 L186.33 288.8 L185.81 289.32 L185.28 290.36 L185.28 291.93 L185.81 292.98 L186.85 294.02 L188.42 294.54 L189.47 294.54 L191.03 294.02 L192.08 292.98 L192.6 291.93 L192.6 290.36 L192.08 289.32 L191.03 288.27 M181.63 284.62 L192.6 284.62 M186.85 275.21 L185.81 275.73 L185.28 277.3 L185.28 278.87 L185.81 280.44 L186.85 280.96 L187.9 280.44 L188.42 279.39 L188.94 276.78 L189.47 275.73 L190.51 275.21 L191.03 275.21 L192.08 275.73 L192.6 277.3 L192.6 278.87 L192.08 280.44 L191.03 280.96
M211.71 632.63 L217.46 632.63 L214.32 636.81 L215.89 636.81 L216.94 637.33 L217.46 637.85 L217.98 639.42 L217.98 640.47 L217.46 642.03 L216.41 643.08 L214.85 643.6 L213.28 643.6 L211.71 643.08 L211.19 642.56 L210.67 641.51 M224.25 632.63 L222.69 633.15 L221.64 634.72 L221.12 637.33 L221.12 638.9 L221.64 641.51 L222.69 643.08 L224.25 643.6 L225.3 643.6 L226.87 643.08 L227.91 641.51 L228.43 638.9 L228.43 637.33 L227.91 634.72 L226.87 633.15 L225.3 632.63 L224.25 632.63 M237.84 632.63 L232.61 632.63 L232.09 637.33 L232.61 636.81 L234.18 636.28 L235.75 636.28 L237.31 636.81 L238.36 637.85 L238.88 639.42 L238.88 640.47 L238.36 642.03 L237.31 643.08 L235.75 643.6 L234.18 643.6 L232.61 643.08 L232.09 642.56 L231.57 641.51 M245.15 632.63 L243.58 633.15 L242.54 634.72 L242.02 637.33 L242.02 638.9 L242.54 641.51 L243.58 643.08 L245.15 643.6 L246.2 643.6 L247.76 643.08 L248.81 641.51 L249.33 638.9 L249.33 637.33 L248.81 634.72 L247.76 633.15 L246.2 632.63 L245.15 632.63
M330.21 632.63 L335.96 632.63 L332.83 636.81 L334.39 636.81 L335.44 637.33 L335.96 637.85 L336.48 639.42 L336.48 640.47 L335.96 642.03 L334.92 643.08 L333.35 643.6 L331.78 643.6 L330.21 643.08 L329.69 642.56 L329.17 641.51 M345.89 632.63 L340.66 632.63 L340.14 637.33 L340.66 636.81 L342.23 636.28 L343.8 636.28 L345.37 636.81 L346.41 637.85 L346.93 639.42 L346.93 640.47 L346.41 642.03 L345.37 643.08 L343.8 643.6 L342.23 643.6 L340.66 643.08 L340.14 642.56 L339.62 641.51 M357.38 632.63 L352.16 643.6 M350.07 632.63 L357.38 632.63 M363.65 632.63 L362.09 633.15 L361.04 634.72 L360.52 637.33 L360.52 638.9 L361.04 641.51 L362.09 643.08 L363.65 643.6 L364.7 643.6 L366.27 643.08 L367.31 641.51 L367.83 638.9 L367.83 637.33 L367.31 634.72 L366.27 633.15 L364.7 632.63 L363.65 632.63
M453.39 632.63 L448.17 639.94 L456 639.94 M453.39 632.63 L453.39 643.6 M460.19 634.72 L461.23 634.2 L462.8 632.63 L462.8 643.6 M472.2 632.63 L470.63 633.15 L469.59 634.72 L469.07 637.33 L469.07 638.9 L469.59 641.51 L470.63 643.08 L472.2 643.6 L473.25 643.6 L474.81 643.08 L475.86 641.51 L476.38 638.9 L476.38 637.33 L475.86 634.72 L474.81 633.15 L473.25 632.63 L472.2 632.63 M482.65 632.63 L481.09 633.15 L480.04 634.72 L479.52 637.33 L479.52 638.9 L480.04 641.51 L481.09 643.08 L482.65 643.6 L483.7 643.6 L485.27 643.08 L486.31 641.51 L486.83 638.9 L486.83 637.33 L486.31 634.72 L485.27 633.15 L483.7 632.63 L482.65 632.63
M572.19 632.63 L566.97 639.94 L574.8 639.94 M572.19 632.63 L572.19 643.6 M584.21 634.2 L583.69 633.15 L582.12 632.63 L581.07 632.63 L579.51 633.15 L578.46 634.72 L577.94 637.33 L577.94 639.94 L578.46 642.03 L579.51 643.08 L581.07 643.6 L581.6 643.6 L583.16 643.08 L584.21 642.03 L584.73 640.47 L584.73 639.94 L584.21 638.38 L583.16 637.33 L581.6 636.81 L581.07 636.81 L579.51 637.33 L578.46 638.38 L577.94 639.94 M588.39 635.24 L588.39 634.72 L588.91 633.67 L589.43 633.15 L590.48 632.63 L592.57 632.63 L593.62 633.15 L594.14 633.67 L594.66 634.72 L594.66 635.76 L594.14 636.81 L593.09 638.38 L587.87 643.6 L595.18 643.6 M601.45 632.63 L599.88 633.15 L598.84 634.72 L598.32 637.33 L598.32 638.9 L598.84 641.51 L599.88 643.08 L601.45 643.6 L602.5 643.6 L604.06 643.08 L605.11 641.51 L605.63 638.9 L605.63 637.33 L605.11 634.72 L604.06 633.15 L602.5 632.63 L601.45 632.63
M662.14 632.63 L656.91 632.63 L656.39 637.33 L656.91 636.81 L658.48 636.28 L660.05 636.28 L661.62 636.81 L662.66 637.85 L663.18 639.42 L663.18 640.47 L662.66 642.03 L661.62 643.08 L660.05 643.6 L658.48 643.6 L656.91 643.08 L656.39 642.56 L655.87 641.51 M669.45 632.63 L667.89 633.15 L666.84 634.72 L666.32 637.33 L666.32 638.9 L666.84 641.51 L667.89 643.08 L669.45 643.6 L670.5 643.6 L672.07 643.08 L673.11 641.51 L673.63 638.9 L673.63 637.33 L673.11 634.72 L672.07 633.15 L670.5 632.63 L669.45 632.63 M678.34 634.72 L679.38 634.2 L680.95 632.63 L680.95 643.6 M690.35 632.63 L688.79 633.15 L687.74 634.72 L687.22 637.33 L687.22 638.9 L687.74 641.51 L688.79 643.08 L690.35 643.6 L691.4 643.6 L692.97 643.08 L694.01 641.51 L694.53 638.9 L694.53 637.33 L694.01 634.72 L692.97 633.15 L691.4 632.63 L690.35 632.63" stroke-linecap="square"/>
</g>
</svg>
</body></html>
